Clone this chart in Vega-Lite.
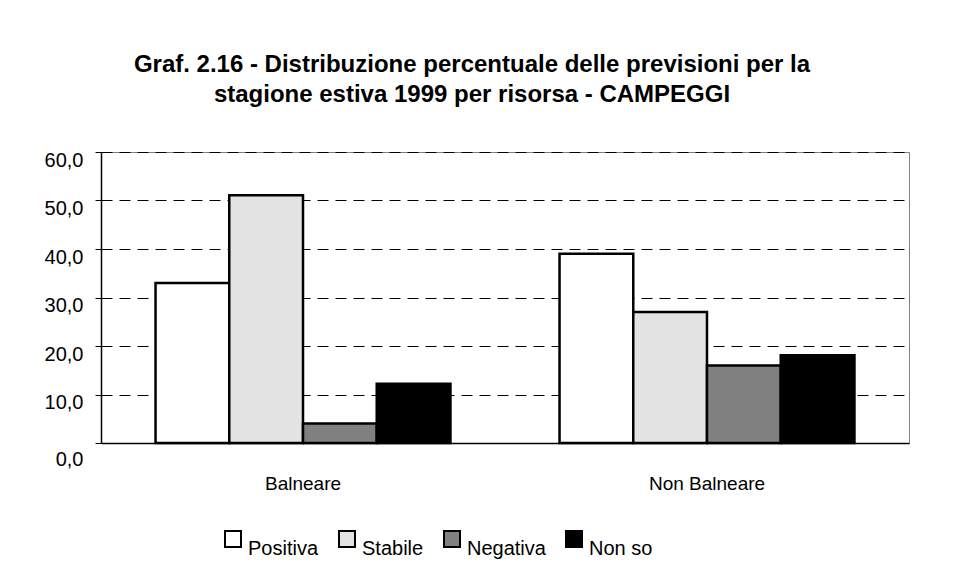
{
  "$schema": "https://vega.github.io/schema/vega-lite/v6.json",
  "width": 808,
  "height": 291,
  "autosize": {"type": "none"},
  "padding": {"left": 101, "top": 152, "right": 67, "bottom": 132},
  "background": "white",
  "title": {
    "text": ["Graf. 2.16 - Distribuzione percentuale delle previsioni per la", "stagione estiva 1999 per risorsa - CAMPEGGI"],
    "font": "Liberation Sans",
    "fontSize": 24,
    "fontWeight": "bold",
    "color": "black",
    "anchor": "middle",
    "frame": "group",
    "dx": -33,
    "offset": 43,
    "lineHeight": 30
  },
  "data": {
    "values": [
      {"risorsa": "Balneare", "previsione": "Positiva", "valore": 33.0},
      {"risorsa": "Balneare", "previsione": "Stabile", "valore": 51.1},
      {"risorsa": "Balneare", "previsione": "Negativa", "valore": 4.0},
      {"risorsa": "Balneare", "previsione": "Non so", "valore": 12.2},
      {"risorsa": "Non Balneare", "previsione": "Positiva", "valore": 39.0},
      {"risorsa": "Non Balneare", "previsione": "Stabile", "valore": 27.0},
      {"risorsa": "Non Balneare", "previsione": "Negativa", "valore": 16.0},
      {"risorsa": "Non Balneare", "previsione": "Non so", "valore": 18.1}
    ]
  },
  "mark": {"type": "bar", "stroke": "black", "strokeWidth": 2.5},
  "encoding": {
    "x": {
      "field": "risorsa",
      "type": "nominal",
      "sort": ["Balneare", "Non Balneare"],
      "scale": {"paddingInner": 0.27, "paddingOuter": 0.135},
      "axis": {
        "title": null,
        "labelAngle": 0,
        "ticks": false,
        "labelPadding": 31,
        "labelFontSize": 19,
        "labelColor": "black",
        "domainColor": "black",
        "domainWidth": 1.5,
        "grid": false
      }
    },
    "xOffset": {
      "field": "previsione",
      "type": "nominal",
      "sort": ["Positiva", "Stabile", "Negativa", "Non so"],
      "scale": {"paddingInner": 0, "paddingOuter": 0}
    },
    "y": {
      "field": "valore",
      "type": "quantitative",
      "scale": {"domain": [0, 60], "nice": false},
      "axis": {
        "title": null,
        "values": [0, 10, 20, 30, 40, 50, 60],
        "labelExpr": "replace(format(datum.value, '.1f'), '.', ',')",
        "labelFontSize": 20,
        "labelColor": "black",
        "labelPadding": 12,
        "labelOffset": {"condition": {"test": "datum.value == 0", "value": 16}, "value": 8},
        "tickSize": 6,
        "tickColor": "black",
        "domainColor": "black",
        "domainWidth": 1.5,
        "grid": true,
        "gridColor": "black",
        "gridDash": [11, 7],
        "gridWidth": 1
      }
    },
    "color": {
      "field": "previsione",
      "type": "nominal",
      "scale": {
        "domain": ["Positiva", "Stabile", "Negativa", "Non so"],
        "range": ["#ffffff", "#e3e3e3", "#808080", "#000000"]
      },
      "legend": {
        "title": null,
        "orient": "none",
        "legendX": 122,
        "legendY": 377,
        "direction": "horizontal",
        "symbolType": "square",
        "symbolSize": 256,
        "symbolStrokeColor": "black",
        "symbolStrokeWidth": 2,
        "symbolOpacity": 1,
        "labelFontSize": 20,
        "labelColor": "black",
        "labelOffset": 5,
        "columnPadding": 16,
        "padding": 0,
        "labelBaseline": "top"
      }
    }
  },
  "config": {
    "view": {"stroke": "#808080", "strokeWidth": 1},
    "font": "Liberation Sans"
  }
}
